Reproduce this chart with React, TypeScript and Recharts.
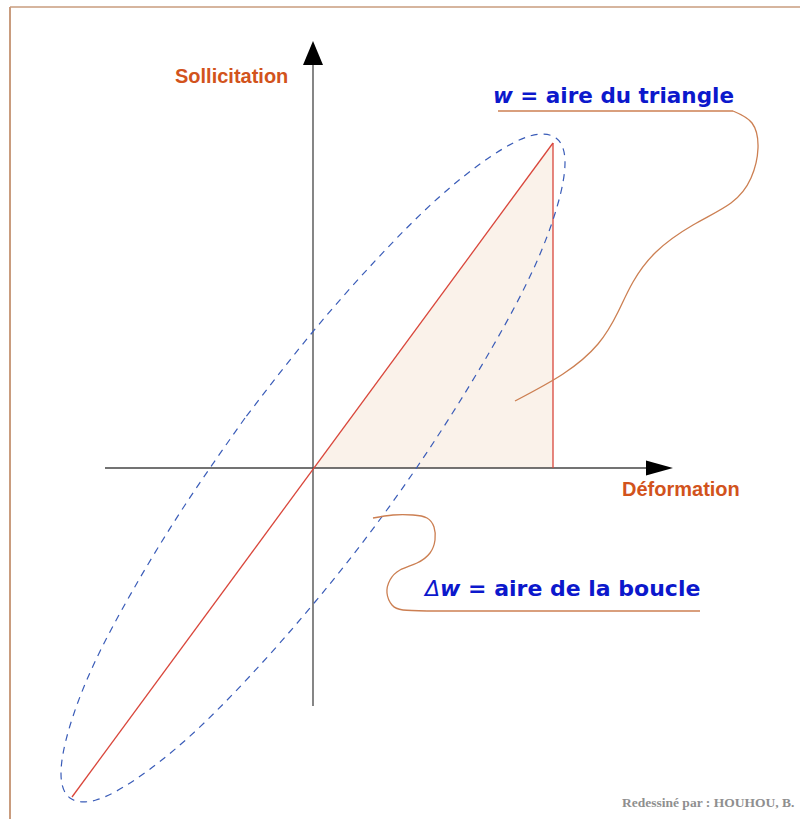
import { ComposedChart, Line, Area, Scatter, XAxis, YAxis, ReferenceDot } from "recharts";

// repère : x = déformation, y = sollicitation (origine au croisement des axes)
const frameTop = [
  { x: -303, y: 461 },
  { x: 487, y: 461 },
];
const frameLeft = [
  { x: -303, y: 461 },
  { x: -303, y: -351 },
];

const axisX = [
  { x: -208, y: 0 },
  { x: 334, y: 0 },
];
const axisY = [
  { x: 0, y: -238 },
  { x: 0, y: 403 },
];
const arrowX = [{ x: 360, y: 0 }];
const arrowY = [{ x: 0, y: 427 }];

// droite de charge et triangle
const loadLine = [
  { x: -241, y: -329 },
  { x: 240, y: 325 },
];
const triangle = [
  { x: 0, y: 0 },
  { x: 240, y: 325 },
];
const triangleSide = [
  { x: 240, y: 0 },
  { x: 240, y: 325 },
];

// boucle d'hystérésis
const loop = [
  { x: -68, y: 50 },
  { x: -128, y: -37 },
  { x: -180, y: -122 },
  { x: -220, y: -198 },
  { x: -244, y: -261 },
  { x: -252, y: -306 },
  { x: -243, y: -330 },
  { x: -217, y: -332 },
  { x: -177, y: -311 },
  { x: -124, y: -269 },
  { x: -63, y: -208 },
  { x: 2, y: -134 },
  { x: 68, y: -50 },
  { x: 128, y: 37 },
  { x: 180, y: 122 },
  { x: 220, y: 198 },
  { x: 244, y: 261 },
  { x: 252, y: 306 },
  { x: 243, y: 330 },
  { x: 217, y: 332 },
  { x: 177, y: 311 },
  { x: 124, y: 269 },
  { x: 63, y: 208 },
  { x: -2, y: 134 },
  { x: -68, y: 50 },
];

// traits de rappel
const leaderTopLine = [
  { x: 185, y: 357 },
  { x: 420, y: 357 },
];
const leaderTopCurve = [
  { x: 420, y: 357 },
  { x: 439, y: 345 },
  { x: 445, y: 320 },
  { x: 438, y: 290 },
  { x: 418, y: 265 },
  { x: 380, y: 243 },
  { x: 343, y: 216 },
  { x: 320, y: 186 },
  { x: 305, y: 156 },
  { x: 285, y: 124 },
  { x: 250, y: 94 },
  { x: 202, y: 67 },
];
const leaderLoopCurve = [
  { x: 60, y: -50 },
  { x: 80, y: -47 },
  { x: 100, y: -47 },
  { x: 114, y: -50 },
  { x: 121, y: -59 },
  { x: 122, y: -72 },
  { x: 117, y: -85 },
  { x: 104, y: -95 },
  { x: 87, y: -102 },
  { x: 77, y: -112 },
  { x: 74, y: -125 },
  { x: 79, y: -137 },
  { x: 90, y: -142 },
  { x: 114, y: -143 },
];
const leaderLoopLine = [
  { x: 114, y: -143 },
  { x: 387, y: -143 },
];

const ORANGE = "#d2531c";
const BLUE = "#0c18cc";
const RED = "#d9463b";
const TAN = "#cc7f52";

const seg = (data: { x: number; y: number }[], stroke: string, width = 1.2, type: any = "linear", dash?: string) => (
  <Line
    data={data}
    dataKey="y"
    type={type}
    stroke={stroke}
    strokeWidth={width}
    strokeDasharray={dash}
    dot={false}
    activeDot={false}
    isAnimationActive={false}
    legendType="none"
  />
);

const arrowRight = (p: any) => (
  <polygon points={`${p.cx},${p.cy} ${p.cx - 27},${p.cy - 7.5} ${p.cx - 27},${p.cy + 7.5}`} fill="#000" />
);
const arrowUp = (p: any) => (
  <polygon points={`${p.cx},${p.cy} ${p.cx - 10},${p.cy + 24} ${p.cx + 10},${p.cy + 24}`} fill="#000" />
);

const label = (text: React.ReactNode, color: string, size: number, family: string) => (p: any) => (
  <text x={p.cx} y={p.cy} fill={color} fontSize={size} fontWeight="bold" fontFamily={family}>
    {text}
  </text>
);

export default function App() {
  return (
    <div style={{ position: "absolute", left: 0, top: 0, background: "#fff" }}>
      <ComposedChart width={800} height={819} margin={{ top: 0, right: 0, bottom: 0, left: 0 }}>
        <XAxis type="number" dataKey="x" domain={[-313, 487]} hide allowDataOverflow />
        <YAxis type="number" dataKey="y" domain={[-351, 468]} hide allowDataOverflow />

        {seg(frameTop, "#c99c7e", 1.5)}
        {seg(frameLeft, "#c99c7e", 2)}

        <Area
          data={triangle}
          dataKey="y"
          type="linear"
          baseValue={0}
          stroke="none"
          fill="#faf2ea"
          fillOpacity={1}
          isAnimationActive={false}
          dot={false}
          activeDot={false}
        />

        {seg(axisX, "#444", 1.3)}
        {seg(axisY, "#444", 1.3)}
        <Scatter data={arrowX} dataKey="y" shape={arrowRight} isAnimationActive={false} />
        <Scatter data={arrowY} dataKey="y" shape={arrowUp} isAnimationActive={false} />

        {seg(loadLine, RED, 1.3)}
        {seg(triangleSide, RED, 1.3)}

        {seg(loop, "#3a5cb8", 1.2, "natural", "7 6")}

        {seg(leaderTopLine, TAN, 1.3)}
        {seg(leaderTopCurve, TAN, 1.3, "natural")}
        {seg(leaderLoopCurve, TAN, 1.3, "natural")}
        {seg(leaderLoopLine, TAN, 1.3)}

        <ReferenceDot x={-138} y={385} r={0} shape={label("Sollicitation", ORANGE, 20, "Liberation Sans, Arial, sans-serif")} />
        <ReferenceDot x={309} y={-28} r={0} shape={label("Déformation", ORANGE, 20, "Liberation Sans, Arial, sans-serif")} />
        <ReferenceDot
          x={180}
          y={365}
          r={0}
          shape={label(
            <>
              <tspan fontStyle="italic">w</tspan> = aire du triangle
            </>,
            BLUE,
            21.5,
            "DejaVu Sans, Verdana, sans-serif"
          )}
        />
        <ReferenceDot
          x={112}
          y={-128}
          r={0}
          shape={label(
            <>
              <tspan fontStyle="italic" fontWeight="normal">Δ</tspan>
              <tspan fontStyle="italic">w</tspan> = aire de la boucle
            </>,
            BLUE,
            22,
            "DejaVu Sans, Verdana, sans-serif"
          )}
        />
        <ReferenceDot
          x={309}
          y={-339}
          r={0}
          shape={label("Redessiné par : HOUHOU, B.", "#8f8f8f", 13.5, "Liberation Serif, Times New Roman, serif")}
        />
      </ComposedChart>
    </div>
  );
}
